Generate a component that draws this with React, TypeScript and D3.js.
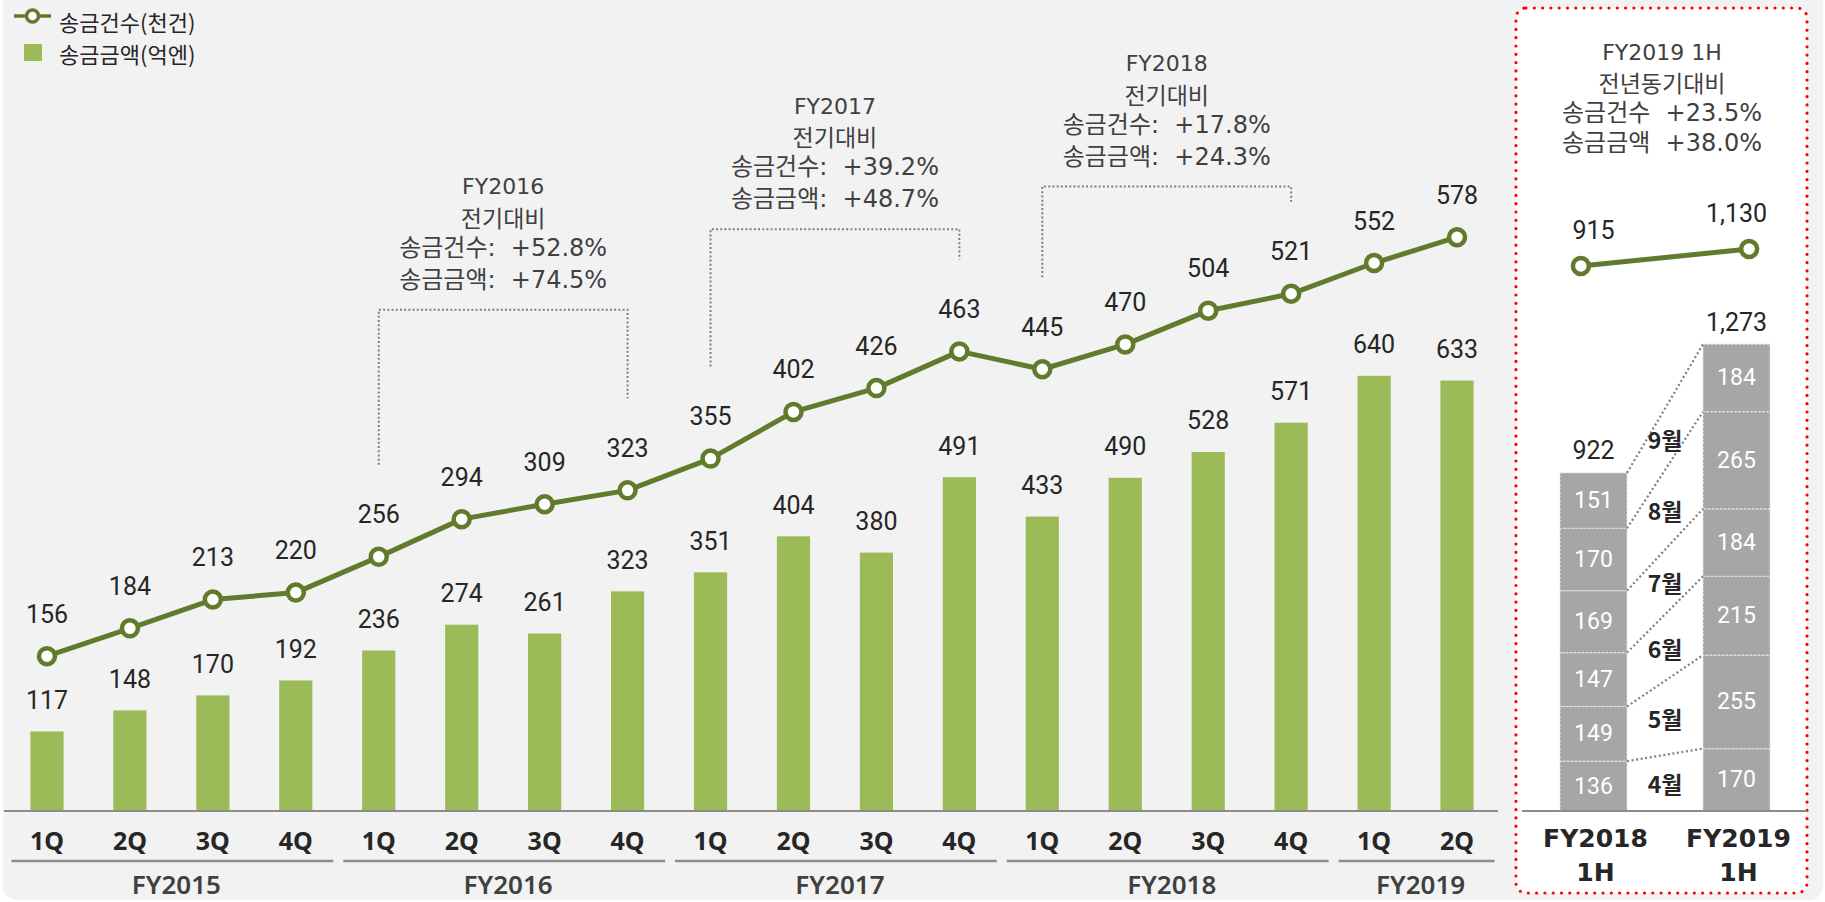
import React from 'react';
import * as d3 from 'd3';

// ---------- data ----------
const quarters = ['1Q','2Q','3Q','4Q','1Q','2Q','3Q','4Q','1Q','2Q','3Q','4Q','1Q','2Q','3Q','4Q','1Q','2Q'];
const quarterYears = ['FY2015','FY2015','FY2015','FY2015','FY2016','FY2016','FY2016','FY2016','FY2017','FY2017','FY2017','FY2017','FY2018','FY2018','FY2018','FY2018','FY2019','FY2019'];
const fiscalYears = ['FY2015','FY2016','FY2017','FY2018','FY2019'];
const remitCount = [156,184,213,220,256,294,309,323,355,402,426,463,445,470,504,521,552,578];
const remitAmount = [117,148,170,192,236,274,261,323,351,404,380,491,433,490,528,571,640,633];

const annYears = ['FY2016','FY2017','FY2018'];
const annCountGrowth = ['+52.8%','+39.2%','+17.8%'];
const annAmountGrowth = ['+74.5%','+48.7%','+24.3%'];
const annLevels = [505, 586, 629]; // bracket height, in thousand-remittance units

const halfCats = ['FY2018 1H','FY2019 1H'];
const months = ['4월','5월','6월','7월','8월','9월'];
const monthly2018 = [136,149,147,169,170,151];
const monthly2019 = [170,255,215,184,265,184];
const halfCount = [915, 1130];
const halfCountLabels = ['915','1,130'];
const halfAmountLabels = ['922','1,273'];
const yoyTitle = 'FY2019 1H';
const yoySub = '전년동기대비';
const yoyCount = '+23.5%';
const yoyAmount = '+38.0%';

const legendLabels = ['송금건수(천건)','송금금액(억엔)'];

// ---------- style ----------
const LINE = '#617b2d';
const BAR = '#9bbb59';
const SEG = '#a6a6a6';
const AXIS = '#8c8c8c';
const DOT = '#7f7f7f';
const KR = "'Noto Sans CJK KR', 'Noto Sans', sans-serif";
const LAT = "'DejaVu Sans', 'Noto Sans CJK KR', sans-serif";
const NUM = "Roboto, 'Noto Sans', sans-serif";
const BOLD = "'Noto Sans', 'Noto Sans CJK KR', sans-serif";

export default function App() {
  const idx = d3.range(quarters.length);
  const x = d3.scalePoint<number>().domain(idx).range([5.5, 1498.5]).padding(0.5);
  const step = x.step();
  const barW = step * 0.4;
  const yAmt = d3.scaleLinear().domain([0, 1000]).range([811, 131]);
  const yCnt = d3.scaleLinear().domain([0, 685]).range([811, 131]);
  const line = d3.line<number>().x((_, i) => x(i)!).y(d => yCnt(d));

  // right panel
  const xR = d3.scalePoint<string>().domain(halfCats).range([1522, 1808]).padding(0.5);
  const xRL = d3.scalePoint<string>().domain(halfCats).range([1522, 1808]).padding(0.35);
  const barWR = 67;
  const yR = d3.scaleLinear().domain([0, 1300]).range([811, 811 - 0.3667 * 1300]);
  const yRL = d3.scaleLinear().domain([0, 1130]).range([338.5, 249]);
  const lineR = d3.line<number>().x((_, i) => xRL(halfCats[i])!).y(d => yRL(d));
  const stacks = [monthly2018, monthly2019].map(arr => {
    const cum = Array.from(d3.cumsum(arr));
    return arr.map((v, i) => ({ v, y0: i === 0 ? 0 : cum[i - 1], y1: cum[i] }));
  });
  const totals = [d3.sum(monthly2018), d3.sum(monthly2019)];
  const c0 = xR(halfCats[0])!;
  const c1 = xR(halfCats[1])!;
  const connMid = (i: number) => (yR(stacks[0][i].y1) + yR(stacks[1][i].y1)) / 2;

  return (
    <svg width={1825} height={902} style={{ position: 'absolute', left: 0, top: 0 }}>
      <rect x={3} y={-20} width={1820} height={920} rx={14} fill="#f2f2f2" />

      {/* legend */}
      <line x1={14} x2={51} y1={16} y2={16} stroke={LINE} strokeWidth={3.5} />
      <circle cx={32.5} cy={16} r={6} fill="#fff" stroke={LINE} strokeWidth={3.5} />
      <text x={59} y={21} dominantBaseline="central" fontFamily={KR} fontSize={22} fill="#262626">{legendLabels[0]}</text>
      <rect x={24} y={44} width={18} height={17} fill={BAR} />
      <text x={59} y={53} dominantBaseline="central" fontFamily={KR} fontSize={22} fill="#262626">{legendLabels[1]}</text>

      {/* bars */}
      {remitAmount.map((v, i) => (
        <rect key={'b' + i} x={x(i)! - barW / 2} y={yAmt(v)} width={barW} height={yAmt(0) - yAmt(v)} fill={BAR} />
      ))}
      {remitAmount.map((v, i) => (
        <text key={'bl' + i} x={x(i)!} y={yAmt(v) - 31} textAnchor="middle" dominantBaseline="central" fontFamily={NUM} fontSize={25} fill="#262626">{v}</text>
      ))}

      {/* baseline */}
      <line x1={4} x2={1498} y1={811} y2={811} stroke={AXIS} strokeWidth={2} />

      {/* line */}
      <path d={line(remitCount)!} fill="none" stroke={LINE} strokeWidth={5} strokeLinejoin="round" />
      {remitCount.map((v, i) => (
        <circle key={'c' + i} cx={x(i)!} cy={yCnt(v)} r={8} fill="#fff" stroke={LINE} strokeWidth={4.5} />
      ))}
      {remitCount.map((v, i) => (
        <text key={'cl' + i} x={x(i)!} y={yCnt(v) - 42} textAnchor="middle" dominantBaseline="central" fontFamily={NUM} fontSize={25} fill="#262626">{v}</text>
      ))}

      {/* quarter labels */}
      {quarters.map((q, i) => (
        <text key={'q' + i} x={x(i)!} y={840} textAnchor="middle" dominantBaseline="central" fontFamily={BOLD} fontWeight={700} fontSize={25} fill="#262626">{q}</text>
      ))}
      {/* fiscal year groups */}
      {fiscalYears.map(fy => {
        const ids = idx.filter(i => quarterYears[i] === fy);
        const x0 = x(ids[0])! - step / 2 + 6;
        const x1 = Math.min(x(ids[ids.length - 1])! + step / 2 - 4, 1501);
        return (
          <g key={fy}>
            <line x1={Math.max(x0, 5)} x2={x1} y1={861} y2={861} stroke={AXIS} strokeWidth={2.5} />
            <text x={(x0 + x1) / 2 + 4} y={884} textAnchor="middle" dominantBaseline="central" fontFamily={BOLD} fontWeight={600} fontSize={26} fill="#404040">{fy}</text>
          </g>
        );
      })}

      {/* annotations */}
      {annYears.map((fy, k) => {
        const ids = idx.filter(i => quarterYears[i] === fy);
        const a = ids[0];
        const b = ids[ids.length - 1];
        const xa = x(a)!;
        const xb = x(b)!;
        const top = yCnt(annLevels[k]);
        const cx = (xa + xb) / 2;
        return (
          <g key={'ann' + fy}>
            <path d={`M${xa},${yCnt(remitCount[a]) - 92}V${top}H${xb}V${yCnt(remitCount[b]) - 92}`} fill="none" stroke={DOT} strokeWidth={2} strokeDasharray="2 2.2" />
            <text x={cx} y={top - 123} textAnchor="middle" dominantBaseline="central" fontFamily={LAT} fontSize={22} fill="#404040">{fy}</text>
            <text x={cx} y={top - 93} textAnchor="middle" dominantBaseline="central" fontFamily={KR} fontSize={23} fill="#404040">전기대비</text>
            <text x={cx} y={top - 62} textAnchor="middle" dominantBaseline="central" fontFamily={LAT} fontSize={24} fill="#404040" style={{ whiteSpace: 'pre' }}>{'송금건수:  ' + annCountGrowth[k]}</text>
            <text x={cx} y={top - 30} textAnchor="middle" dominantBaseline="central" fontFamily={LAT} fontSize={24} fill="#404040" style={{ whiteSpace: 'pre' }}>{'송금금액:  ' + annAmountGrowth[k]}</text>
          </g>
        );
      })}

      {/* right panel */}
      <rect x={1516} y={8} width={291} height={885} rx={10} fill="#fff" stroke="#ff0000" strokeWidth={3.2} strokeDasharray="0 8.3" strokeLinecap="round" />
      <text x={1662} y={52} textAnchor="middle" dominantBaseline="central" fontFamily={LAT} fontSize={22} fill="#404040">{yoyTitle}</text>
      <text x={1662} y={82} textAnchor="middle" dominantBaseline="central" fontFamily={KR} fontSize={23} fill="#404040">{yoySub}</text>
      <text x={1662} y={113} textAnchor="middle" dominantBaseline="central" fontFamily={LAT} fontSize={24} fill="#404040" style={{ whiteSpace: 'pre' }}>{'송금건수  ' + yoyCount}</text>
      <text x={1662} y={143} textAnchor="middle" dominantBaseline="central" fontFamily={LAT} fontSize={24} fill="#404040" style={{ whiteSpace: 'pre' }}>{'송금금액  ' + yoyAmount}</text>

      {stacks.map((segs, j) => {
        const cx = xR(halfCats[j])!;
        return (
          <g key={'st' + j}>
            {segs.map((s, i) => (
              <g key={i}>
                <rect x={cx - barWR / 2} y={yR(s.y1)} width={barWR} height={yR(s.y0) - yR(s.y1)} fill={SEG} stroke="#e6e6e6" strokeWidth={1.2} strokeDasharray="2 2" />
                <text x={cx} y={(yR(s.y0) + yR(s.y1)) / 2} textAnchor="middle" dominantBaseline="central" fontFamily={NUM} fontSize={23} fill="#fff">{s.v}</text>
              </g>
            ))}
            <text x={cx} y={yR(totals[j]) - 22} textAnchor="middle" dominantBaseline="central" fontFamily={NUM} fontSize={25} fill="#262626">{halfAmountLabels[j]}</text>
          </g>
        );
      })}
      {months.map((m, i) => {
        const prev = i === 0 ? yR(0) : connMid(i - 1);
        const cur = connMid(i);
        return (
          <g key={'m' + i}>
            <line x1={c0 + barWR / 2} y1={yR(stacks[0][i].y1)} x2={c1 - barWR / 2} y2={yR(stacks[1][i].y1)} stroke={DOT} strokeWidth={2.2} strokeDasharray="2 2.6" />
            <text x={(c0 + c1) / 2} y={(prev + cur) / 2} textAnchor="middle" dominantBaseline="central" fontFamily={KR} fontWeight={600} fontSize={23} fill="#262626">{m}</text>
          </g>
        );
      })}
      <line x1={1522} x2={1807} y1={811} y2={811} stroke={AXIS} strokeWidth={2} />

      <path d={lineR(halfCount)!} fill="none" stroke={LINE} strokeWidth={5} />
      {halfCount.map((v, i) => (
        <g key={'hc' + i}>
          <circle cx={xRL(halfCats[i])!} cy={yRL(v)} r={8} fill="#fff" stroke={LINE} strokeWidth={4.5} />
          <text x={xR(halfCats[i])!} y={yRL(v) - 36} textAnchor="middle" dominantBaseline="central" fontFamily={NUM} fontSize={25} fill="#262626">{halfCountLabels[i]}</text>
        </g>
      ))}

      {halfCats.map(c => {
        const [fy, h] = c.split(' ');
        return (
          <g key={c}>
            <text x={xR(c)! + 2} y={838} textAnchor="middle" dominantBaseline="central" fontFamily="'DejaVu Sans', sans-serif" fontWeight={700} fontSize={25} fill="#262626">{fy}</text>
            <text x={xR(c)! + 2} y={872} textAnchor="middle" dominantBaseline="central" fontFamily="'DejaVu Sans', sans-serif" fontWeight={700} fontSize={25} fill="#262626">{h}</text>
          </g>
        );
      })}
    </svg>
  );
}
